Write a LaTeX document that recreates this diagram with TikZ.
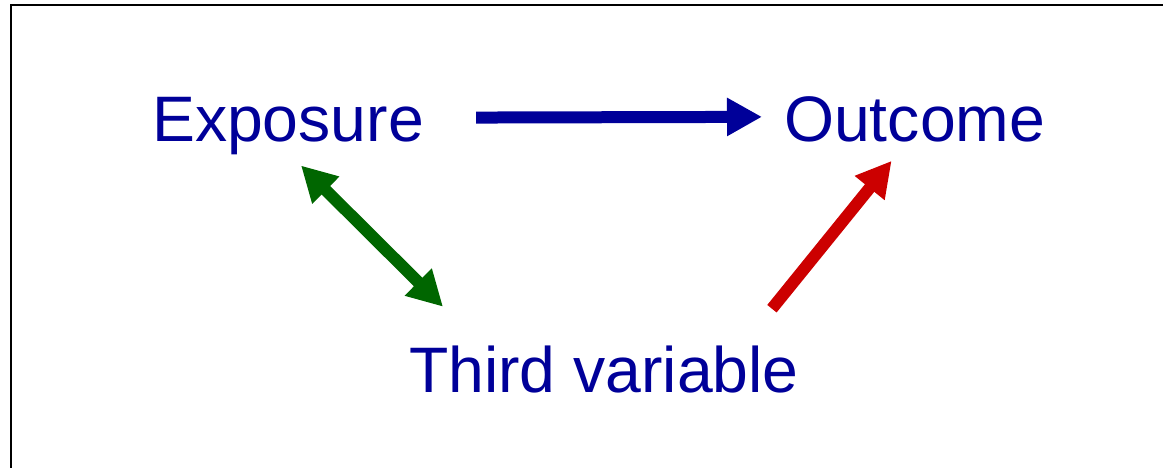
\documentclass[tikz,border=0pt]{standalone}
\usepackage{fontspec}
\setmainfont{Liberation Sans}
\usetikzlibrary{arrows.meta}
\definecolor{txtblue}{HTML}{000099}
\definecolor{arrgreen}{HTML}{006600}
\definecolor{arrred}{HTML}{CC0000}
\begin{document}
\begin{tikzpicture}[x=1pt, y=-1pt,
    lbl/.style={inner sep=0pt, anchor=base west, text=txtblue,
        font=\fontsize{64.3}{70}\selectfont},
    conn/.style={line width=12pt, -{Triangle[length=35pt, width=36pt]}},
    biconn/.style={line width=12pt, {Triangle[length=35pt, width=36pt]}-{Triangle[length=35pt, width=36pt]}}]
    % Rahmen und Bildausschnitt
    \useasboundingbox (0,0) rectangle (1163,468);
    \clip (0,0) rectangle (1163,468);
    \draw[line width=2.2pt] (11,490) -- (11,5) -- (1190,5);
    % Begriffe
    \node[lbl] (expo) at (152,142) {Exposure};
    \node[lbl] (outc) at (784,142) {Outcome};
    \node[lbl] (third) at (409,392) {Third variable};
    % Pfeile
    \draw[conn, txtblue] ([xshift=52pt, yshift=9pt]expo.east)
        -- ([xshift=-22pt, yshift=3pt]outc.west);
    \draw[biconn, arrgreen] ([xshift=13pt, yshift=-10pt]expo.south)
        -- ([xshift=34pt, yshift=38.5pt]third.north west);
    \draw[conn, arrred] ([xshift=-27pt, yshift=36.5pt]third.north east)
        -- ([xshift=-23pt, yshift=-18pt]outc.south);
\end{tikzpicture}
\end{document}
